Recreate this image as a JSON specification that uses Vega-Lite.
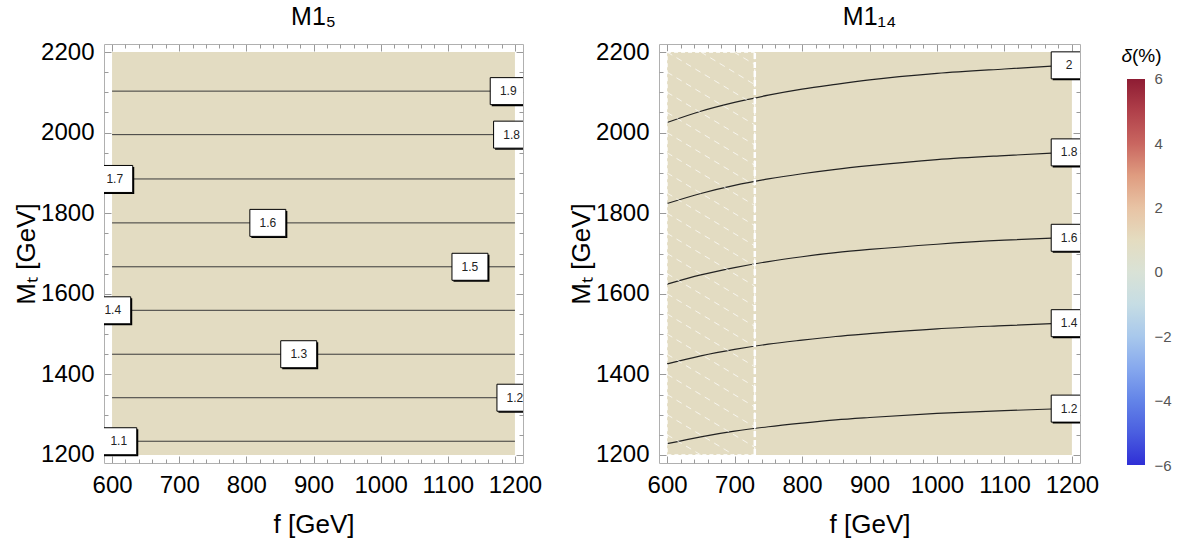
{
  "$schema": "https://vega.github.io/schema/vega-lite/v6.json",
  "padding": {"left": 13, "top": 5, "right": 5, "bottom": 5},
  "background": "white",
  "config": {
    "view": {"stroke": null},
    "font": "Liberation Sans",
    "axis": {"grid": false, "format": "d", "labelFont": "Liberation Sans", "labelFontSize": 24, "labelColor": "black", "titleFont": "Liberation Sans", "titleFontSize": 26, "titleFontWeight": "normal", "titleColor": "black", "domainColor": "#b0b0b0", "tickColor": "#9a9a9a", "labelFlush": false, "labelOverlap": false},
    "title": {"font": "Liberation Sans", "fontSize": 25, "fontWeight": "normal", "color": "black", "offset": 10}
  },
  "datasets": {
    "m15": [
      {"level": "1.1", "MT": 1234, "labelF": 610},
      {"level": "1.2", "MT": 1342, "labelF": 1200},
      {"level": "1.3", "MT": 1450, "labelF": 878},
      {"level": "1.4", "MT": 1559, "labelF": 601},
      {"level": "1.5", "MT": 1667, "labelF": 1133},
      {"level": "1.6", "MT": 1776, "labelF": 832},
      {"level": "1.7", "MT": 1885, "labelF": 604},
      {"level": "1.8", "MT": 1995, "labelF": 1195},
      {"level": "1.9", "MT": 2103, "labelF": 1190}
    ],
    "m14c": [
      {"level": "1.2", "f": 600, "MT": 1228}, {"level": "1.2", "f": 650, "MT": 1245}, {"level": "1.2", "f": 700, "MT": 1259}, {"level": "1.2", "f": 750, "MT": 1270}, {"level": "1.2", "f": 800, "MT": 1279}, {"level": "1.2", "f": 850, "MT": 1287}, {"level": "1.2", "f": 900, "MT": 1293}, {"level": "1.2", "f": 1000, "MT": 1303}, {"level": "1.2", "f": 1100, "MT": 1310}, {"level": "1.2", "f": 1170, "MT": 1314},
      {"level": "1.4", "f": 600, "MT": 1426}, {"level": "1.4", "f": 650, "MT": 1446}, {"level": "1.4", "f": 700, "MT": 1462}, {"level": "1.4", "f": 750, "MT": 1475}, {"level": "1.4", "f": 800, "MT": 1485}, {"level": "1.4", "f": 850, "MT": 1494}, {"level": "1.4", "f": 900, "MT": 1501}, {"level": "1.4", "f": 1000, "MT": 1513}, {"level": "1.4", "f": 1100, "MT": 1521}, {"level": "1.4", "f": 1170, "MT": 1526},
      {"level": "1.6", "f": 600, "MT": 1624}, {"level": "1.6", "f": 650, "MT": 1647}, {"level": "1.6", "f": 700, "MT": 1665}, {"level": "1.6", "f": 750, "MT": 1680}, {"level": "1.6", "f": 800, "MT": 1692}, {"level": "1.6", "f": 850, "MT": 1702}, {"level": "1.6", "f": 900, "MT": 1710}, {"level": "1.6", "f": 1000, "MT": 1723}, {"level": "1.6", "f": 1100, "MT": 1733}, {"level": "1.6", "f": 1170, "MT": 1738},
      {"level": "1.8", "f": 600, "MT": 1824}, {"level": "1.8", "f": 650, "MT": 1849}, {"level": "1.8", "f": 700, "MT": 1869}, {"level": "1.8", "f": 750, "MT": 1885}, {"level": "1.8", "f": 800, "MT": 1898}, {"level": "1.8", "f": 850, "MT": 1909}, {"level": "1.8", "f": 900, "MT": 1918}, {"level": "1.8", "f": 1000, "MT": 1933}, {"level": "1.8", "f": 1100, "MT": 1943}, {"level": "1.8", "f": 1170, "MT": 1949},
      {"level": "2", "f": 600, "MT": 2025}, {"level": "2", "f": 650, "MT": 2053}, {"level": "2", "f": 700, "MT": 2075}, {"level": "2", "f": 750, "MT": 2093}, {"level": "2", "f": 800, "MT": 2108}, {"level": "2", "f": 850, "MT": 2120}, {"level": "2", "f": 900, "MT": 2131}, {"level": "2", "f": 1000, "MT": 2147}, {"level": "2", "f": 1100, "MT": 2158}, {"level": "2", "f": 1170, "MT": 2165}
    ],
    "m14l": [
      {"level": "1.2", "f": 1196, "MT": 1315},
      {"level": "1.4", "f": 1196, "MT": 1527},
      {"level": "1.6", "f": 1196, "MT": 1739},
      {"level": "1.8", "f": 1196, "MT": 1951},
      {"level": "2", "f": 1196, "MT": 2167}
    ],
    "hatch": [
      {"f1": 699, "m1": 2200, "f2": 730, "m2": 2169},
      {"f1": 650, "m1": 2200, "f2": 730, "m2": 2119},
      {"f1": 600, "m1": 2200, "f2": 730, "m2": 2069},
      {"f1": 600, "m1": 2150, "f2": 730, "m2": 2019},
      {"f1": 600, "m1": 2100, "f2": 730, "m2": 1969},
      {"f1": 600, "m1": 2050, "f2": 730, "m2": 1919},
      {"f1": 600, "m1": 2000, "f2": 730, "m2": 1869},
      {"f1": 600, "m1": 1950, "f2": 730, "m2": 1819},
      {"f1": 600, "m1": 1900, "f2": 730, "m2": 1769},
      {"f1": 600, "m1": 1850, "f2": 730, "m2": 1719},
      {"f1": 600, "m1": 1800, "f2": 730, "m2": 1669},
      {"f1": 600, "m1": 1750, "f2": 730, "m2": 1619},
      {"f1": 600, "m1": 1700, "f2": 730, "m2": 1569},
      {"f1": 600, "m1": 1650, "f2": 730, "m2": 1519},
      {"f1": 600, "m1": 1600, "f2": 730, "m2": 1469},
      {"f1": 600, "m1": 1550, "f2": 730, "m2": 1419},
      {"f1": 600, "m1": 1500, "f2": 730, "m2": 1369},
      {"f1": 600, "m1": 1450, "f2": 730, "m2": 1319},
      {"f1": 600, "m1": 1400, "f2": 730, "m2": 1269},
      {"f1": 600, "m1": 1350, "f2": 730, "m2": 1219},
      {"f1": 600, "m1": 1300, "f2": 699, "m2": 1200},
      {"f1": 600, "m1": 1250, "f2": 650, "m2": 1200}
    ]
  },
  "hconcat": [
    {
      "width": 419,
      "height": 419,
      "title": {"text": "M1₅"},
      "layer": [
        {"data": {"values": [{}]}, "mark": {"type": "rect", "color": "#e3dcc2"},
         "encoding": {
           "x": {"datum": 600, "type": "quantitative", "scale": {"domain": [588, 1212], "nice": false, "zero": false}, "axis": {"orient": "bottom", "values": [600, 700, 800, 900, 1000, 1100, 1200], "tickSize": -7, "labelPadding": 17, "title": "f [GeV]", "titlePadding": 14}},
           "x2": {"datum": 1200},
           "y": {"datum": 1200, "type": "quantitative", "scale": {"domain": [1180, 2220], "nice": false, "zero": false}, "axis": {"orient": "left", "values": [1200, 1400, 1600, 1800, 2000, 2200], "tickSize": -7, "labelPadding": 17, "title": "Mₜ [GeV]", "titlePadding": 1}},
           "y2": {"datum": 2200}
         }},
        {"data": {"values": [{}]}, "mark": {"type": "point", "opacity": 0},
         "encoding": {
           "x": {"datum": 600, "type": "quantitative", "axis": {"orient": "bottom", "values": [620, 640, 660, 680, 720, 740, 760, 780, 820, 840, 860, 880, 920, 940, 960, 980, 1020, 1040, 1060, 1080, 1120, 1140, 1160, 1180], "tickSize": -4, "labels": false, "domain": false, "title": null}},
           "y": {"datum": 1200, "type": "quantitative", "axis": {"orient": "left", "values": [1250, 1300, 1350, 1450, 1500, 1550, 1650, 1700, 1750, 1850, 1900, 1950, 2050, 2100, 2150], "tickSize": -4, "labels": false, "domain": false, "title": null}}
         }},
        {"data": {"values": [{}]}, "mark": {"type": "point", "opacity": 0},
         "encoding": {
           "x": {"datum": 600, "type": "quantitative", "axis": {"orient": "top", "values": [600, 700, 800, 900, 1000, 1100, 1200], "tickSize": -7, "labels": false, "title": null}},
           "y": {"datum": 1200, "type": "quantitative", "axis": {"orient": "right", "values": [1200, 1400, 1600, 1800, 2000, 2200], "tickSize": -7, "labels": false, "title": null}}
         }},
        {"data": {"values": [{}]}, "mark": {"type": "point", "opacity": 0},
         "encoding": {
           "x": {"datum": 600, "type": "quantitative", "axis": {"orient": "top", "values": [620, 640, 660, 680, 720, 740, 760, 780, 820, 840, 860, 880, 920, 940, 960, 980, 1020, 1040, 1060, 1080, 1120, 1140, 1160, 1180], "tickSize": -4, "labels": false, "domain": false, "title": null}},
           "y": {"datum": 1200, "type": "quantitative", "axis": {"orient": "right", "values": [1250, 1300, 1350, 1450, 1500, 1550, 1650, 1700, 1750, 1850, 1900, 1950, 2050, 2100, 2150], "tickSize": -4, "labels": false, "domain": false, "title": null}}
         }},
        {"data": {"name": "m15"}, "mark": {"type": "rule", "color": "#3a3a3a", "strokeWidth": 1},
         "encoding": {
           "y": {"field": "MT", "type": "quantitative", "axis": null},
           "x": {"datum": 600, "type": "quantitative", "axis": null},
           "x2": {"datum": 1200}
         }},
        {"data": {"name": "m15"}, "mark": {"type": "point", "shape": "M-1.333,-1L1.333,-1L1.333,1L-1.333,1Z", "size": 729, "filled": true, "color": "black", "opacity": 1, "xOffset": 1.5, "yOffset": 1.5, "clip": true},
         "encoding": {
           "x": {"field": "labelF", "type": "quantitative", "axis": null},
           "y": {"field": "MT", "type": "quantitative", "axis": null}
         }},
        {"data": {"name": "m15"}, "mark": {"type": "point", "shape": "M-1.333,-1L1.333,-1L1.333,1L-1.333,1Z", "size": 729, "filled": true, "fill": "white", "stroke": "black", "strokeWidth": 1, "opacity": 1, "clip": true},
         "encoding": {
           "x": {"field": "labelF", "type": "quantitative", "axis": null},
           "y": {"field": "MT", "type": "quantitative", "axis": null}
         }},
        {"data": {"name": "m15"}, "mark": {"type": "text", "fontSize": 12, "font": "Liberation Sans", "color": "#222222", "align": "center", "baseline": "middle", "clip": true},
         "encoding": {
           "x": {"field": "labelF", "type": "quantitative", "axis": null},
           "y": {"field": "MT", "type": "quantitative", "axis": null},
           "text": {"field": "level", "type": "nominal"}
         }}
      ],
      "resolve": {"axis": {"x": "independent", "y": "independent"}}
    },
    {
      "width": 42,
      "height": 419,
      "data": {"values": [{}]},
      "mark": {"type": "point", "opacity": 0}
    },
    {
      "width": 421,
      "height": 419,
      "title": {"text": "M1₁₄"},
      "layer": [
        {"data": {"values": [{}]}, "mark": {"type": "rect", "color": "#e3dcc2"},
         "encoding": {
           "x": {"datum": 600, "type": "quantitative", "scale": {"domain": [588, 1212], "nice": false, "zero": false}, "axis": {"orient": "bottom", "values": [600, 700, 800, 900, 1000, 1100, 1200], "tickSize": -7, "labelPadding": 17, "title": "f [GeV]", "titlePadding": 14}},
           "x2": {"datum": 1200},
           "y": {"datum": 1200, "type": "quantitative", "scale": {"domain": [1180, 2220], "nice": false, "zero": false}, "axis": {"orient": "left", "values": [1200, 1400, 1600, 1800, 2000, 2200], "tickSize": -7, "labelPadding": 17, "title": "Mₜ [GeV]", "titlePadding": 1}},
           "y2": {"datum": 2200}
         }},
        {"data": {"values": [{}]}, "mark": {"type": "point", "opacity": 0},
         "encoding": {
           "x": {"datum": 600, "type": "quantitative", "axis": {"orient": "bottom", "values": [620, 640, 660, 680, 720, 740, 760, 780, 820, 840, 860, 880, 920, 940, 960, 980, 1020, 1040, 1060, 1080, 1120, 1140, 1160, 1180], "tickSize": -4, "labels": false, "domain": false, "title": null}},
           "y": {"datum": 1200, "type": "quantitative", "axis": {"orient": "left", "values": [1250, 1300, 1350, 1450, 1500, 1550, 1650, 1700, 1750, 1850, 1900, 1950, 2050, 2100, 2150], "tickSize": -4, "labels": false, "domain": false, "title": null}}
         }},
        {"data": {"values": [{}]}, "mark": {"type": "point", "opacity": 0},
         "encoding": {
           "x": {"datum": 600, "type": "quantitative", "axis": {"orient": "top", "values": [600, 700, 800, 900, 1000, 1100, 1200], "tickSize": -7, "labels": false, "title": null}},
           "y": {"datum": 1200, "type": "quantitative", "axis": {"orient": "right", "values": [1200, 1400, 1600, 1800, 2000, 2200], "tickSize": -7, "labels": false, "title": null}}
         }},
        {"data": {"values": [{}]}, "mark": {"type": "point", "opacity": 0},
         "encoding": {
           "x": {"datum": 600, "type": "quantitative", "axis": {"orient": "top", "values": [620, 640, 660, 680, 720, 740, 760, 780, 820, 840, 860, 880, 920, 940, 960, 980, 1020, 1040, 1060, 1080, 1120, 1140, 1160, 1180], "tickSize": -4, "labels": false, "domain": false, "title": null}},
           "y": {"datum": 1200, "type": "quantitative", "axis": {"orient": "right", "values": [1250, 1300, 1350, 1450, 1500, 1550, 1650, 1700, 1750, 1850, 1900, 1950, 2050, 2100, 2150], "tickSize": -4, "labels": false, "domain": false, "title": null}}
         }},
        {"data": {"name": "m14c"}, "mark": {"type": "line", "color": "#222222", "strokeWidth": 1.2, "interpolate": "monotone"},
         "encoding": {
           "x": {"field": "f", "type": "quantitative", "axis": null},
           "y": {"field": "MT", "type": "quantitative", "axis": null},
           "detail": {"field": "level", "type": "nominal"}
         }},
        {"data": {"name": "hatch"}, "mark": {"type": "rule", "color": "white", "opacity": 0.7, "strokeWidth": 1, "strokeDash": [6, 5]},
         "encoding": {
           "x": {"field": "f1", "type": "quantitative", "axis": null},
           "y": {"field": "m1", "type": "quantitative", "axis": null},
           "x2": {"field": "f2"},
           "y2": {"field": "m2"}
         }},
        {"data": {"values": [{}]}, "mark": {"type": "rect", "fill": null, "fillOpacity": 0, "stroke": "white", "strokeWidth": 1.2, "strokeDash": [4, 3]},
         "encoding": {
           "x": {"datum": 600, "type": "quantitative", "axis": null},
           "x2": {"datum": 730},
           "y": {"datum": 1200, "type": "quantitative", "axis": null},
           "y2": {"datum": 2200}
         }},
        {"data": {"values": [{}]}, "mark": {"type": "rule", "color": "white", "strokeWidth": 2.5, "strokeDash": [6, 3]},
         "encoding": {
           "x": {"datum": 730, "type": "quantitative", "axis": null},
           "y": {"datum": 1200, "type": "quantitative", "axis": null},
           "y2": {"datum": 2200}
         }},
        {"data": {"name": "m14l"}, "mark": {"type": "point", "shape": "M-1.333,-1L1.333,-1L1.333,1L-1.333,1Z", "size": 729, "filled": true, "color": "black", "opacity": 1, "xOffset": 1.5, "yOffset": 1.5, "clip": true},
         "encoding": {
           "x": {"field": "f", "type": "quantitative", "axis": null},
           "y": {"field": "MT", "type": "quantitative", "axis": null}
         }},
        {"data": {"name": "m14l"}, "mark": {"type": "point", "shape": "M-1.333,-1L1.333,-1L1.333,1L-1.333,1Z", "size": 729, "filled": true, "fill": "white", "stroke": "black", "strokeWidth": 1, "opacity": 1, "clip": true},
         "encoding": {
           "x": {"field": "f", "type": "quantitative", "axis": null},
           "y": {"field": "MT", "type": "quantitative", "axis": null}
         }},
        {"data": {"name": "m14l"}, "mark": {"type": "text", "fontSize": 12, "font": "Liberation Sans", "color": "#222222", "align": "center", "baseline": "middle", "clip": true},
         "encoding": {
           "x": {"field": "f", "type": "quantitative", "axis": null},
           "y": {"field": "MT", "type": "quantitative", "axis": null},
           "text": {"field": "level", "type": "nominal"}
         }}
      ],
      "resolve": {"axis": {"x": "independent", "y": "independent"}}
    },
    {
      "width": 18,
      "height": 421,
      "layer": [
        {"data": {"values": [{}]},
         "mark": {"type": "rect", "color": {"gradient": "linear", "x1": 0, "y1": 1, "x2": 0, "y2": 0, "stops": [
           {"offset": 0, "color": "#2f2fd6"},
           {"offset": 0.083, "color": "#4a5ee0"},
           {"offset": 0.167, "color": "#6384e8"},
           {"offset": 0.25, "color": "#86a8ee"},
           {"offset": 0.333, "color": "#a8c8ec"},
           {"offset": 0.417, "color": "#c6dde4"},
           {"offset": 0.5, "color": "#d9e2d6"},
           {"offset": 0.583, "color": "#e4dcc0"},
           {"offset": 0.667, "color": "#e8c3a4"},
           {"offset": 0.75, "color": "#df9c80"},
           {"offset": 0.833, "color": "#c96660"},
           {"offset": 0.917, "color": "#b0404a"},
           {"offset": 1, "color": "#8e1c33"}
         ]}},
         "encoding": {
           "y": {"datum": -6, "type": "quantitative", "scale": {"domain": [-6, 7.088], "nice": false, "zero": false}, "axis": {"orient": "right", "values": [-6, -4, -2, 0, 2, 4, 6], "domain": false, "ticks": false, "labelPadding": 9, "labelFontSize": 15, "labelColor": "#555555", "title": null}},
           "y2": {"datum": 6}
         }},
        {"data": {"values": [{}]},
         "mark": {"type": "text", "text": "δ", "fontStyle": "italic", "fontSize": 19, "font": "Liberation Sans", "color": "black", "align": "right", "baseline": "middle", "dx": -4},
         "encoding": {"y": {"datum": 6.715, "type": "quantitative"}}},
        {"data": {"values": [{}]},
         "mark": {"type": "text", "text": "(%)", "fontSize": 19, "font": "Liberation Sans", "color": "black", "align": "left", "baseline": "middle", "dx": -4},
         "encoding": {"y": {"datum": 6.715, "type": "quantitative"}}}
      ]
    }
  ],
  "spacing": 47,
  "bounds": "flush"
}
